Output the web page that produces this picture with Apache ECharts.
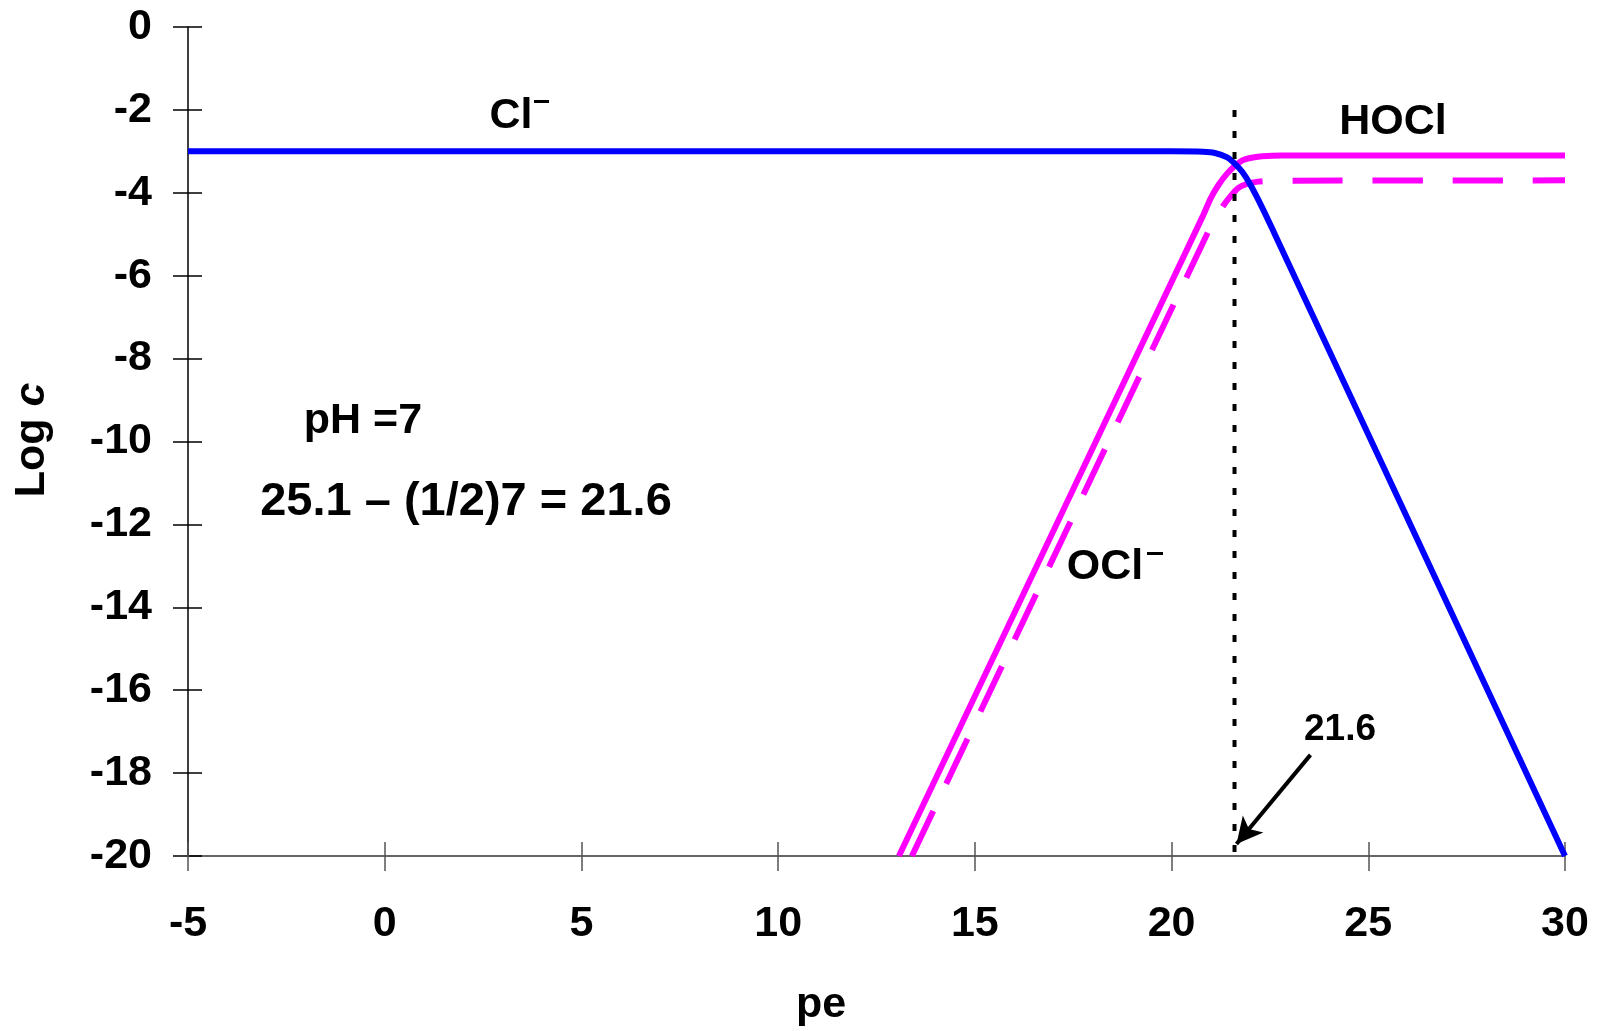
<!DOCTYPE html>
<html>
<head>
<meta charset="utf-8">
<title>Log c vs pe</title>
<script src="https://cdn.jsdelivr.net/npm/echarts@6/dist/echarts.min.js"></script>
<style>
  html, body { margin: 0; padding: 0; background: #fff; }
  #chart { width: 1600px; height: 1031px; }
</style>
</head>
<body>
<div id="chart"></div>
<script>
// 数据
const xTicks = [-5, 30, 5];     // min, max, interval
const yTicks = [-20, 0, 2];
const clPoints = [[-5, -3], [20, -3], [20.8, -3.01], [21.1, -3.04], [21.4, -3.14], [21.6, -3.29],
    [21.8, -3.5], [22.0, -3.8], [22.3, -4.35], [22.6, -4.95], [30, -20]];
const hoclPoints = [[13.07, -20], [20.8, -4.55], [21.0, -4.12], [21.2, -3.8], [21.4, -3.55], [21.6, -3.36],
    [21.8, -3.22], [22.0, -3.16], [22.3, -3.12], [22.8, -3.1], [30, -3.1]];
const oclPoints = [[13.4, -20], [20.9, -5.0], [21.1, -4.63], [21.3, -4.33], [21.5, -4.08], [21.7, -3.88],
    [21.9, -3.79], [22.2, -3.73], [22.6, -3.71], [30, -3.7]];
const pePoint = [[21.6, -2], [21.6, -20]];
const arrowFrom = [23.53, -17.56];
const arrowTo = [21.65, -19.71];

document.addEventListener('DOMContentLoaded', function() {
    const chart = echarts.init(document.getElementById('chart'));
    const font = 'Liberation Sans, Arial, sans-serif';

    const baseX = {
        type: 'value', min: xTicks[0], max: xTicks[1], interval: xTicks[2],
        splitLine: { show: false }
    };
    const baseY = {
        type: 'value', min: yTicks[0], max: yTicks[1], interval: yTicks[2],
        splitLine: { show: false }
    };

    const option = {
        animation: false,
        backgroundColor: '#fff',
        grid: { left: 188, right: 35, top: 27, bottom: 175 },
        xAxis: [
            Object.assign({}, baseX, {
                axisLine: { onZero: false, lineStyle: { color: '#666', width: 2 } },
                axisTick: { length: 15, lineStyle: { color: '#555', width: 1.5 } },
                axisLabel: { margin: 47, color: '#000', fontSize: 43, fontWeight: 'bold', fontFamily: font }
            }),
            Object.assign({}, baseX, {
                position: 'bottom',
                axisLine: { show: false, onZero: false },
                axisTick: { inside: true, length: 14, lineStyle: { color: '#555', width: 1.5 } },
                axisLabel: { show: false }
            })
        ],
        yAxis: [
            Object.assign({}, baseY, {
                axisLine: { onZero: false, lineStyle: { color: '#000', width: 1.5 } },
                axisTick: { length: 15, lineStyle: { color: '#000', width: 1.5 } },
                axisLabel: { margin: 36, color: '#000', fontSize: 43, fontWeight: 'bold', fontFamily: font }
            }),
            Object.assign({}, baseY, {
                position: 'left',
                axisLine: { show: false, onZero: false },
                axisTick: { inside: true, length: 14, lineStyle: { color: '#000', width: 1.5 } },
                axisLabel: { show: false }
            })
        ],
        series: [
            {
                name: 'Cl-', type: 'line', data: clPoints, smooth: 0.3,
                showSymbol: false, lineStyle: { color: '#0000ff', width: 6 }, z: 3
            },
            {
                name: 'HOCl', type: 'line', data: hoclPoints, smooth: 0.3,
                showSymbol: false, lineStyle: { color: '#ff00ff', width: 6 }, z: 2
            },
            {
                name: 'OCl-', type: 'line', data: oclPoints, smooth: 0.3,
                showSymbol: false, lineStyle: { color: '#ff00ff', width: 6, type: [50, 30] }, z: 2
            },
            {
                name: 'pe=21.6', type: 'line', data: pePoint,
                showSymbol: false, lineStyle: { color: '#000', width: 4, type: [7, 14] }, z: 4,
                markLine: {
                    silent: true,
                    symbol: ['none', 'arrow'],
                    symbolSize: [20, 26],
                    label: { show: false },
                    lineStyle: { color: '#000', width: 4, type: 'solid' },
                    data: [[{ coord: arrowFrom }, { coord: arrowTo }]]
                }
            }
        ],
        graphic: [
            { type: 'text', x: 511, y: 116, style: { text: 'Cl', font: 'bold 43px ' + font, fill: '#000', align: 'center', verticalAlign: 'middle' } },
            { type: 'rect', shape: { x: 534, y: 100, width: 15, height: 3 }, style: { fill: '#000' } },
            { type: 'text', x: 1393, y: 122, style: { text: 'HOCl', font: 'bold 43px ' + font, fill: '#000', align: 'center', verticalAlign: 'middle' } },
            { type: 'text', x: 1105, y: 567, style: { text: 'OCl', font: 'bold 43px ' + font, fill: '#000', align: 'center', verticalAlign: 'middle' } },
            { type: 'rect', shape: { x: 1147, y: 552, width: 16, height: 3 }, style: { fill: '#000' } },
            { type: 'text', x: 363, y: 421, style: { text: 'pH =7', font: 'bold 43px ' + font, fill: '#000', align: 'center', verticalAlign: 'middle' } },
            { type: 'text', x: 466, y: 502, style: { text: '25.1 \u2013 (1/2)7 = 21.6', font: 'bold 47px ' + font, fill: '#000', align: 'center', verticalAlign: 'middle' } },
            { type: 'text', x: 1340, y: 730, style: { text: '21.6', font: 'bold 37px ' + font, fill: '#000', align: 'center', verticalAlign: 'middle' } },
            { type: 'text', x: 821, y: 1005, style: { text: 'pe', font: 'bold 43px ' + font, fill: '#000', align: 'center', verticalAlign: 'middle' } },
            {
                type: 'text', x: 32, y: 440, rotation: Math.PI / 2,
                style: {
                    text: '{n|Log }{i|c}', align: 'center', verticalAlign: 'middle',
                    rich: {
                        n: { font: 'bold 43px ' + font, fill: '#000' },
                        i: { font: 'italic bold 43px ' + font, fill: '#000' }
                    }
                }
            }
        ]
    };
    chart.setOption(option);

    window.addEventListener('resize', function() {
        chart.resize();
    });
});
</script>
</body>
</html>
